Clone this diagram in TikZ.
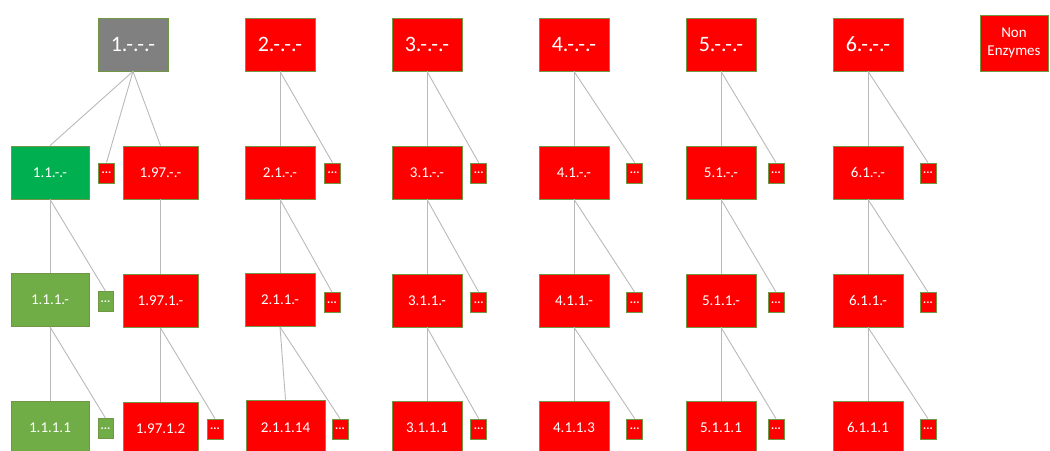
\documentclass[tikz,border=0pt]{standalone}
\usepackage{fontspec}
\setmainfont{Carlito}
\definecolor{redbox}{RGB}{255,0,0}
\definecolor{graybox}{RGB}{128,128,128}
\definecolor{greenA}{RGB}{0,176,80}
\definecolor{greenB}{RGB}{112,173,71}
\definecolor{edgecol}{RGB}{112,150,70}
\definecolor{linkcol}{RGB}{185,185,185}
\begin{document}
\begin{tikzpicture}[x=1pt,y=-1pt,
  box/.style={draw=edgecol, line width=0.8pt, text=white, inner sep=0pt, align=center, font=\fontsize{15}{16}\selectfont},
  topbox/.style={box, minimum width=70pt, minimum height=53pt, font=\fontsize{22}{24}\selectfont},
  midbox/.style={box, minimum width=70pt, minimum height=53pt},
  dots/.style={box, minimum width=16pt, minimum height=20pt, font=\fontsize{12}{12}\selectfont\bfseries},
  link/.style={draw=linkcol, line width=0.9pt}]
\useasboundingbox (0,0) rectangle (1050,450);
\begin{scope}
\clip (0,0) rectangle (1050,450);
% top row
\node[topbox, fill=graybox] (t1) at (133,44.5) {1.-.-.-};
\node[topbox, fill=redbox] (t2) at (280,44.5) {2.-.-.-};
\node[topbox, fill=redbox] (t3) at (427,44.5) {3.-.-.-};
\node[topbox, fill=redbox] (t4) at (574,44.5) {4.-.-.-};
\node[topbox, fill=redbox] (t5) at (721,44.5) {5.-.-.-};
\node[topbox, fill=redbox] (t6) at (868,44.5) {6.-.-.-};
\node[box, fill=redbox, minimum width=68pt, minimum height=56pt, font=\fontsize{15}{18}\selectfont] (ne) at (1014,43) {Non\\Enzymes};
% column 1
\node[midbox, fill=greenA, minimum width=78pt] (a2) at (50,172.5) {1.1.-.-};
\node[midbox, fill=greenB, minimum width=78pt] (a3) at (50,300) {1.1.1.-};
\node[midbox, fill=greenB, minimum width=78pt] (a4) at (50,428) {1.1.1.1};
\node[dots, fill=redbox] (d1) at (106.5,173) {...};
\node[dots, fill=greenB, minimum width=15pt] (da3) at (105.5,301.5) {...};
\node[dots, fill=greenB, minimum width=15pt] (da4) at (105.5,428.5) {...};
\node[midbox, fill=redbox, minimum width=75pt] (b2) at (160.5,172.5) {1.97.-.-};
\node[midbox, fill=redbox, minimum width=75pt] (b3) at (160.5,301) {1.97.1.-};
\node[midbox, fill=redbox, minimum width=75pt] (b4) at (160.5,429) {1.97.1.2};
\node[dots, fill=redbox] (db4) at (215,429) {...};
% column 2
\node[midbox, fill=redbox] (c2) at (280,172.5) {2.1.-.-};
\node[midbox, fill=redbox] (c3) at (280,300) {2.1.1.-};
\node[midbox, fill=redbox, minimum width=79pt, minimum height=56pt] (c4) at (285.5,428) {2.1.1.14};
\node[dots, fill=redbox] (dc2) at (332.5,173) {...};
\node[dots, fill=redbox] (dc3) at (332,302.5) {...};
\node[dots, fill=redbox] (dc4) at (340,429) {...};
% columns 3-6
\foreach \i/\x/\dx/\lb/\lc/\ld in {3/427/478.7/3.1.-.-/3.1.1.-/3.1.1.1, 4/574/634.7/4.1.-.-/4.1.1.-/4.1.1.3, 5/721/776/5.1.-.-/5.1.1.-/5.1.1.1, 6/868/928/6.1.-.-/6.1.1.-/6.1.1.1}{
  \node[midbox, fill=redbox] (m\i2) at (\x,172.5) {\lb};
  \node[midbox, fill=redbox] (m\i3) at (\x,300.5) {\lc};
  \node[midbox, fill=redbox] (m\i4) at (\x,427.5) {\ld};
  \node[dots, fill=redbox] (e\i2) at (\dx,173) {...};
  \node[dots, fill=redbox] (e\i3) at (\dx,302.5) {...};
  \node[dots, fill=redbox] (e\i4) at (\dx,429) {...};
}
\end{scope}
% links
\draw[link] (t1.south) -- (a2.north);
\draw[link] (t1.south) -- (d1.north);
\draw[link] (t1.south) -- (b2.north);
\draw[link] (a2.south) -- (a3.north);
\draw[link] (a2.south) -- (da3.north);
\draw[link] (a3.south) -- (a4.north);
\draw[link] (a3.south) -- (da4.north);
\draw[link] (b2.south) -- (b3.north);
\draw[link] (b3.south) -- (b4.north);
\draw[link] (b3.south) -- (db4.north);
\draw[link] (t2.south) -- (c2.north);
\draw[link] (t2.south) -- (dc2.north);
\draw[link] (c2.south) -- (c3.north);
\draw[link] (c2.south) -- (dc3.north);
\draw[link] (c3.south) -- (c4.north);
\draw[link] (c3.south) -- (dc4.north);
\foreach \i in {3,4,5,6}{
  \draw[link] (t\i.south) -- (m\i2.north);
  \draw[link] (t\i.south) -- (e\i2.north);
  \draw[link] (m\i2.south) -- (m\i3.north);
  \draw[link] (m\i2.south) -- (e\i3.north);
  \draw[link] (m\i3.south) -- (m\i4.north);
  \draw[link] (m\i3.south) -- (e\i4.north);
}
\end{tikzpicture}
\end{document}
